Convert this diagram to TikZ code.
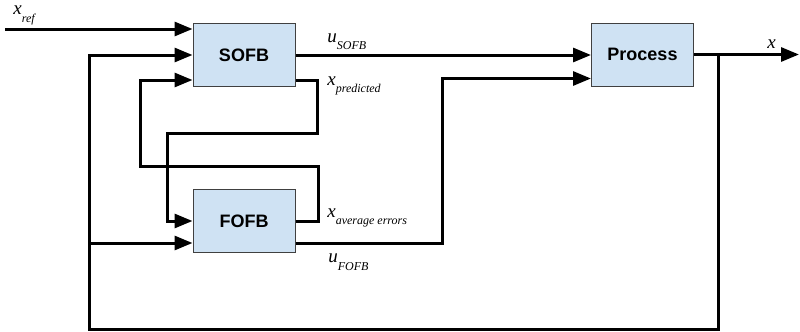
\documentclass[tikz,border=0pt]{standalone}
\usepackage{fontspec}
\setmainfont{Liberation Serif}
\newfontfamily\blockfont{Liberation Sans}
\usetikzlibrary{positioning, arrows.meta, calc}

\definecolor{blockblue}{RGB}{207,226,243}

% signal name with a lowered italic index
\newcommand{\sig}[2]{\textit{#1}\raisebox{-3.8pt}{\fontsize{6}{7}\selectfont\itshape #2}}

\begin{document}
\begin{tikzpicture}[
    x=0.5pt, y=-0.5pt, % pixel grid, y runs downwards
    >={Triangle[length=9pt, width=7pt]},
    % Styles
    block/.style={ % Controller or plant block
        rectangle,
        draw=black!75,
        line width=0.5pt,
        fill=blockblue,
        minimum width=51pt,
        minimum height=31.5pt,
        font=\blockfont\bfseries\fontsize{9}{10}\selectfont
    },
    signal/.style={ % Signal label
        anchor=base west,
        inner sep=0pt,
        font=\fontsize{9.5}{10}\selectfont
    },
    arrow/.style={
        ->,
        line width=1.5pt
    }
]
    \useasboundingbox (0,0) rectangle (800,332);

    % Blocks
    \node[block] (sofb) at (244,55) {SOFB};
    \node[block] (fofb) at (244,221) {FOFB};
    \node[block] (proc) at (642.5,54.5) {Process};

    % Extra ports and wire corners
    \coordinate (sofb in1) at ($(sofb.west)+(0,-26)$);
    \coordinate (sofb in3) at ($(sofb.west)+(0,25)$);
    \coordinate (sofb out2) at ($(sofb.east)+(0,25)$);
    \coordinate (fofb out2) at ($(fofb.east)+(0,22)$);
    \coordinate (fofb in2) at ($(fofb.west)+(0,22)$);
    \coordinate (proc in2) at ($(proc.west)+(0,24)$);
    \coordinate (ref) at (5,29);
    \coordinate (out) at (799,54.5);
    \coordinate (branch) at (718,54.5);
    \coordinate (fbleft) at (89,329);

    % Reference input and process output
    \draw[arrow] (ref) -- (sofb in1);
    \draw[arrow] (sofb.east) -- (sofb.east -| proc.west);
    \draw[arrow] (proc.east) -- (out);

    % Feedback of x to both controllers
    \draw[arrow] (branch) |- (fbleft) |- (sofb.west);
    \draw[arrow] (fbleft |- fofb in2) -- (fofb in2);

    % Cross coupling between SOFB and FOFB
    \draw[arrow] (sofb out2) -- ++(22,0) -- ++(0,53) -| ($(fofb.west)+(-25,0)$) -- (fofb.west);
    \draw[arrow] (fofb.east) -- ++(23,0) -- ++(0,-55) -| ($(sofb in3)+(-52,0)$) -- (sofb in3);

    % FOFB correction to the process
    \draw[arrow] (fofb out2) -| ($(proc in2)+(-149,0)$) -- (proc in2);

    % Signal labels
    \node[signal] (l ref) at (13,15) {\sig{x}{ref}};
    \node[signal] (l usofb) at (327,42) {\sig{u}{SOFB}};
    \node[signal] (l xpred) at (327,85) {\sig{x}{predicted}};
    \node[signal] (l xavg) at (327,217) {\sig{x}{average errors}};
    \node[signal] (l ufofb) at (328,263) {\sig{u}{FOFB}};
    \node[signal] (l x) at (767,48) {\textit{x}};

\end{tikzpicture}
\end{document}
